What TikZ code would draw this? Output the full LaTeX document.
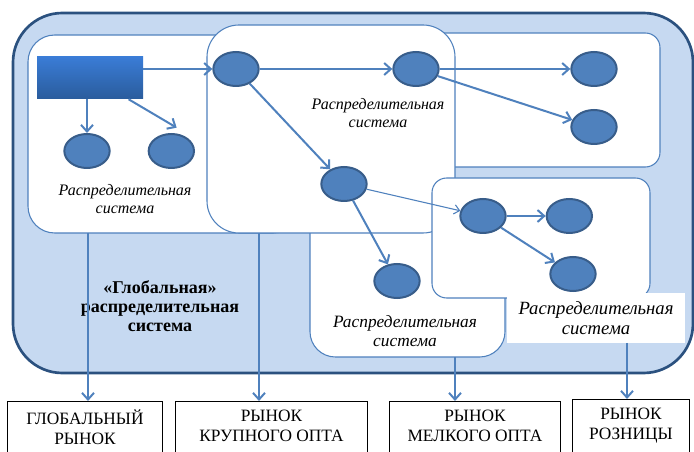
\documentclass[tikz,border=0pt]{standalone}
\usepackage{fontspec}
\setmainfont{Liberation Serif}
\usepackage{xcolor}
\usetikzlibrary{shapes.geometric, arrows.meta, positioning, calc}
\definecolor{globalfill}{HTML}{C6D9F1}
\definecolor{globalline}{HTML}{2B517F}
\definecolor{chainblue}{HTML}{4F81BD}
\definecolor{chaindark}{HTML}{385D8A}
\definecolor{srctop}{HTML}{3A7CD6}
\definecolor{srcbottom}{HTML}{2A5C9C}

\begin{document}
\begin{tikzpicture}[
    x=0.75pt, y=0.75pt,
    every node/.style={font=\fontsize{12}{13}\selectfont},
    sysbox/.style={
        draw=chainblue,
        fill=white,
        line width=0.8pt
    },
    source/.style={
        rectangle,
        top color=srctop,
        bottom color=srcbottom,
        minimum width=79.5pt,
        minimum height=31.5pt,
        inner sep=0pt
    },
    elem/.style={
        ellipse,
        draw=chaindark,
        fill=chainblue,
        line width=1.5pt,
        minimum width=34pt,
        minimum height=25.5pt,
        inner sep=0pt
    },
    flow/.style={
        -{Straight Barb[length=5pt,width=9pt]},
        line width=1.5pt,
        draw=chainblue
    },
    thinflow/.style={
        -{Straight Barb[length=4pt,width=7pt]},
        line width=0.8pt,
        draw=chainblue
    },
    syslabel/.style={
        align=center,
        font=\itshape\fontsize{12}{13}\selectfont
    },
    market/.style={
        rectangle,
        draw=black,
        line width=0.8pt,
        fill=white,
        anchor=north,
        align=center,
        inner xsep=2pt,
        inner ysep=6.5pt,
        text depth=30pt,
        font=\fontsize{13}{15}\selectfont
    }
]
\useasboundingbox (0,0) rectangle (694,-452);
\clip (0,0) rectangle (694,-452);

% Global frame
\filldraw[fill=globalfill, draw=globalline, line width=2pt, rounded corners=37pt] (13,-13) rectangle (693,-373);

% Distribution systems, back to front
\filldraw[sysbox, rounded corners=11pt] (300,-33) rectangle (660,-167);
\filldraw[sysbox, rounded corners=20pt] (28,-35) rectangle (300,-233);
\filldraw[sysbox, rounded corners=19pt] (310,-180) rectangle (505,-357);
\filldraw[sysbox, rounded corners=24pt] (207,-25) rectangle (455,-233);
\filldraw[sysbox, rounded corners=11pt] (432,-178) rectangle (650,-298);
\fill[white] (507,-293) rectangle (685,-343);

% Producer and the first system
\node[source] (src) at (90,-78) {};
\node[elem] (ga) at (87,-151) {};
\node[elem, right=27.75pt of ga] (gb) {};

% Wholesale system
\node[elem] (wa) at (236,-69) {};
\node[elem] (wb) at (416,-69) {};
\node[elem] (wc) at (344,-184) {};
\node[elem] (ma) at (397,-281) {};

% Retail systems
\node[elem] (ra) at (594,-69) {};
\node[elem, below=16.5pt of ra] (rb) {};
\node[elem] (sa) at (483,-216) {};
\node[elem, right=29.25pt of sa] (sb) {};
\node[elem] (sc) at (573,-274) {};

% Labels
\node[syslabel] (lga) at (125,-199) {Распределительная\\система};
\node[syslabel] (lwa) at (378,-113) {Распределительная\\система};
\node[syslabel, font=\itshape\fontsize{13}{14}\selectfont] (lma) at (405,-331) {Распределительная\\система};
\node[syslabel, font=\itshape\fontsize{14}{15}\selectfont] (lsa) at (596,-318) {Распределительная\\система};
\node[align=center, font=\bfseries\fontsize{13.5}{14.5}\selectfont] (glob) at (160,-306) {«Глобальная»\\распределительная\\система};

% Flows inside the systems
\draw[flow] (src.east |- wa) -- (wa);
\draw[flow] (src.south -| ga) -- (ga);
\draw[flow] ([xshift=-11pt]src.south east) -- ([xshift=4pt,yshift=4pt]gb.north);
\draw[flow] (wa) -- (wb);
\draw[flow] (wb) -- (ra);
\draw[flow] (wb) -- (rb);
\draw[flow] (wa) -- (wc);
\draw[thinflow] (wc) -- (sa);
\draw[flow] (sa) -- (sb);
\draw[flow] (sa) -- (sc);
\draw[flow] (wc) -- (ma);

% Markets
\node[market, minimum width=116pt] (mk1) at (85,-401) {ГЛОБАЛЬНЫЙ\\РЫНОК};
\node[market, minimum width=144pt] (mk2) at (271.5,-401) {РЫНОК\\КРУПНОГО ОПТА};
\node[market, minimum width=128pt] (mk3) at (475,-401) {РЫНОК\\МЕЛКОГО ОПТА};
\node[market, minimum width=88pt] (mk4) at (631,-399) {РЫНОК\\РОЗНИЦЫ};

% Outputs to the markets
\coordinate (d1) at (88,-233);
\coordinate (d2) at (259,-233);
\coordinate (d3) at (455,-357);
\coordinate (d4) at (627,-343);
\draw[flow] (d1) -- (d1 |- mk1.north);
\draw[flow] (d2) -- (d2 |- mk2.north);
\draw[flow] (d3) -- (d3 |- mk3.north);
\draw[flow] (d4) -- (d4 |- mk4.north);

\end{tikzpicture}
\end{document}
